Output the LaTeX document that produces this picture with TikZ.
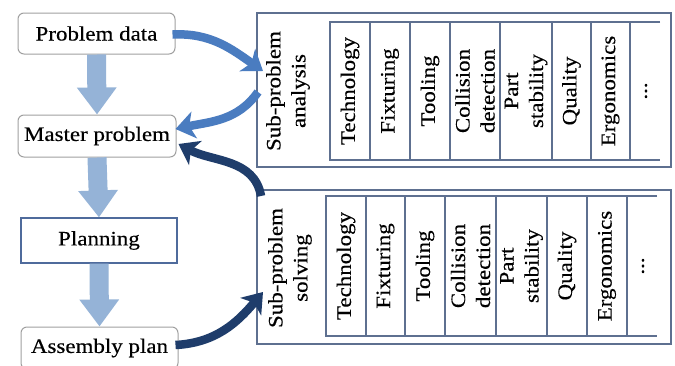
\documentclass[tikz,border=0pt]{standalone}
\usepackage{fontspec}
\setmainfont[FakeStretch=1.12,FakeBold=0.3]{Liberation Serif}
\usetikzlibrary{arrows.meta}
\definecolor{lightarrow}{HTML}{95B3D7}
\definecolor{midarrow}{HTML}{4A7CC0}
\definecolor{darkarrow}{HTML}{1F3D6B}
\definecolor{panelline}{HTML}{5E7090}
\definecolor{boxgray}{HTML}{A0A0A0}
\definecolor{planline}{HTML}{4F6B9C}
\begin{document}
\begin{tikzpicture}[x=1pt,y=-1pt,
  every node/.style={font=\fontsize{20.5}{25}\selectfont, text=black},
  rbox/.style={draw=boxgray, line width=1pt, rounded corners=6pt, fill=white, inner sep=0pt},
  pbox/.style={draw=planline, line width=1.2pt, fill=white, inner sep=0pt},
  panel/.style={draw=panelline, line width=1.4pt, inner sep=0pt},
  coltext/.style={rotate=90, align=center, inner sep=0pt},
  tline/.style={draw=panelline, line width=1.3pt},
  bigarrow/.style={draw=lightarrow, line width=19pt, -{Triangle[width=38pt,length=27pt]}},
  midarr/.style={draw=midarrow, line width=8.5pt, -{Stealth[width=27pt,length=19pt,inset=5pt]}},
  darkarr/.style={draw=darkarrow, line width=8.5pt, -{Stealth[width=27pt,length=19pt,inset=5pt]}}
]
\useasboundingbox (0,0) rectangle (675,365);
\clip (0,0) rectangle (675,365);
\fill[white] (0,0) rectangle (675,365);

% left boxes
\node[rbox, minimum width=157pt, minimum height=41pt] (pd) at (96.5,33.5) {Problem data};
\node[rbox, minimum width=158pt, minimum height=42pt] (mp) at (97,136) {Master problem};
\node[pbox, minimum width=156pt, minimum height=45pt] (pl) at (99,240.5) {Planning};
\node[rbox, minimum width=157pt, minimum height=42pt] (ap) at (99.5,348) {Assembly plan};

% thick vertical arrows
\draw[bigarrow] (pd.south) -- (mp.north);
\draw[bigarrow] (mp.south) -- (pl.north);
\draw[bigarrow] (pl.south) -- (ap.north);

% panels
\node[panel, minimum width=414pt, minimum height=154pt] (sa) at (464,90) {};
\node[panel, minimum width=414pt, minimum height=154pt] (ss) at (464,267) {};

% upper table
\draw[tline] (660,22) -- (330,22) -- (330,160) -- (660,160);
\foreach \x in {370,410,450,500,552,591,630} \draw[tline] (\x,22) -- (\x,160);
\node[coltext] (sal) at (288,91) {Sub-problem\\analysis};
\node[coltext] (u1) at (350,91) {Technology};
\node[coltext] (u2) at (390,91) {Fixturing};
\node[coltext] (u3) at (430,91) {Tooling};
\node[coltext] (u4) at (475,91) {Collision\\detection};
\node[coltext] (u5) at (526,91) {Part\\stability};
\node[coltext] (u6) at (571.5,91) {Quality};
\node[coltext] (u7) at (610.5,91) {Ergonomics};
\node[coltext] (u8) at (646,91) {...};

% lower table
\draw[tline] (657,196) -- (326,196) -- (326,336) -- (657,336);
\foreach \x in {366,405,445,496,547,587,627} \draw[tline] (\x,196) -- (\x,336);
\node[coltext] (ssl) at (290,268) {Sub-problem\\solving};
\node[coltext] (l1) at (346,266) {Technology};
\node[coltext] (l2) at (385.5,266) {Fixturing};
\node[coltext] (l3) at (425,266) {Tooling};
\node[coltext] (l4) at (470.5,266) {Collision\\detection};
\node[coltext] (l5) at (521.5,266) {Part\\stability};
\node[coltext] (l6) at (567,266) {Quality};
\node[coltext] (l7) at (607,266) {Ergonomics};
\node[coltext] (l8) at (643,266) {...};

% curved arrows
\coordinate (a1e) at (263,71);
\coordinate (a2s) at (258,92);
\coordinate (a3s) at (261,196);
\coordinate (a4e) at (263,292);
\draw[midarr] ([xshift=-3pt,yshift=-1pt]pd.east) to[out=3,in=145] (a1e);
\draw[midarr] (a2s) to[out=235,in=12] ([xshift=-1pt,yshift=7pt]mp.east);
\draw[darkarr] (a3s) to[out=100,in=-28] ([xshift=2pt,yshift=-8pt]mp.east);
\draw[darkarr] ([xshift=-3pt,yshift=3pt]ap.east) to[out=3,in=230] (a4e);
\end{tikzpicture}
\end{document}
